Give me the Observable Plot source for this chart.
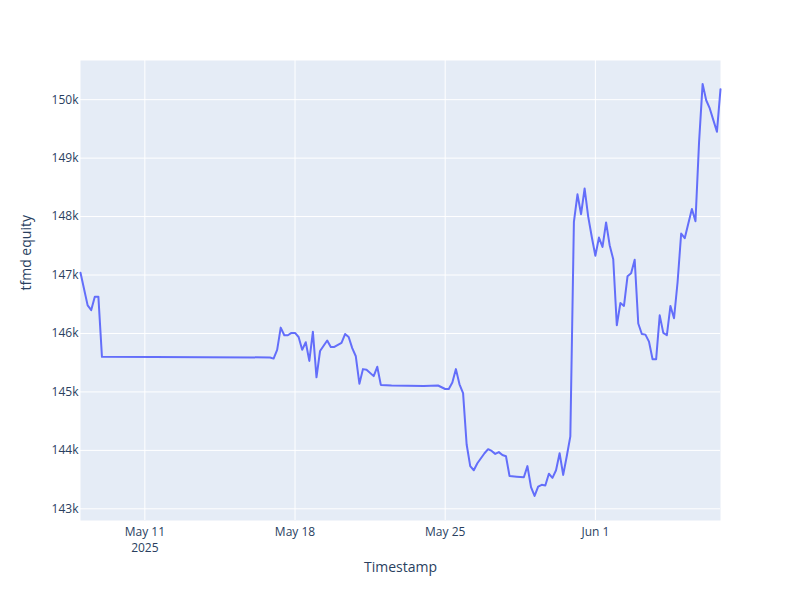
<!DOCTYPE html>
<html>
<head>
<meta charset="utf-8">
<script src="https://cdn.jsdelivr.net/npm/d3@7"></script>
<script src="https://cdn.jsdelivr.net/npm/@observablehq/plot@0.6"></script>
<style>
  body { margin: 0; background: #fff; }
  #chart svg { font-family: "Open Sans", sans-serif; }
</style>
</head>
<body>
<div id="chart"></div>
<script>
// timestamps and tfmd equity
const timestamps = [
  "2025-05-08T00:00", "2025-05-08T08:00", "2025-05-08T12:00", "2025-05-08T16:00", "2025-05-08T20:00",
  "2025-05-09T00:00", "2025-05-16T20:00", "2025-05-17T00:00", "2025-05-17T04:00", "2025-05-17T08:00",
  "2025-05-17T12:00", "2025-05-17T16:00", "2025-05-17T20:00", "2025-05-18T00:00", "2025-05-18T04:00",
  "2025-05-18T08:00", "2025-05-18T12:00", "2025-05-18T16:00", "2025-05-18T20:00", "2025-05-19T00:00",
  "2025-05-19T04:00", "2025-05-19T12:00", "2025-05-19T16:00", "2025-05-19T20:00", "2025-05-20T04:00",
  "2025-05-20T08:00", "2025-05-20T12:00", "2025-05-20T16:00", "2025-05-20T20:00", "2025-05-21T00:00",
  "2025-05-21T04:00", "2025-05-21T08:00", "2025-05-21T16:00", "2025-05-21T20:00", "2025-05-22T00:00",
  "2025-05-22T12:00", "2025-05-24T00:00", "2025-05-24T16:00", "2025-05-25T00:00", "2025-05-25T04:00",
  "2025-05-25T08:00", "2025-05-25T12:00", "2025-05-25T16:00", "2025-05-25T20:00", "2025-05-26T00:00",
  "2025-05-26T04:00", "2025-05-26T08:00", "2025-05-26T12:00", "2025-05-26T20:00", "2025-05-27T00:00",
  "2025-05-27T04:00", "2025-05-27T08:00", "2025-05-27T12:00", "2025-05-27T16:00", "2025-05-27T20:00",
  "2025-05-28T00:00", "2025-05-28T08:00", "2025-05-28T16:00", "2025-05-28T20:00", "2025-05-29T00:00",
  "2025-05-29T04:00", "2025-05-29T08:00", "2025-05-29T12:00", "2025-05-29T16:00", "2025-05-29T20:00",
  "2025-05-30T00:00", "2025-05-30T04:00", "2025-05-30T08:00", "2025-05-30T12:00", "2025-05-30T16:00",
  "2025-05-30T20:00", "2025-05-31T00:00", "2025-05-31T04:00", "2025-05-31T08:00", "2025-05-31T12:00",
  "2025-05-31T16:00", "2025-05-31T20:00", "2025-06-01T00:00", "2025-06-01T04:00", "2025-06-01T08:00",
  "2025-06-01T12:00", "2025-06-01T16:00", "2025-06-01T20:00", "2025-06-02T00:00", "2025-06-02T04:00",
  "2025-06-02T08:00", "2025-06-02T12:00", "2025-06-02T16:00", "2025-06-02T20:00", "2025-06-03T00:00",
  "2025-06-03T04:00", "2025-06-03T08:00", "2025-06-03T12:00", "2025-06-03T16:00", "2025-06-03T20:00",
  "2025-06-04T00:00", "2025-06-04T04:00", "2025-06-04T08:00", "2025-06-04T12:00", "2025-06-04T16:00",
  "2025-06-04T20:00", "2025-06-05T00:00", "2025-06-05T04:00", "2025-06-05T08:00", "2025-06-05T12:00",
  "2025-06-05T16:00", "2025-06-05T20:00", "2025-06-06T00:00", "2025-06-06T04:00", "2025-06-06T08:00",
  "2025-06-06T12:00", "2025-06-06T16:00", "2025-06-06T20:00"
];
const equity = [
  147040, 146480, 146400, 146630, 146630,
  145600, 145590, 145570, 145720, 146100,
  145970, 145970, 146010, 146010, 145940,
  145720, 145850, 145530, 146030, 145250,
  145700, 145880, 145770, 145770, 145840,
  145990, 145940, 145750, 145610, 145140,
  145390, 145380, 145270, 145430, 145120,
  145110, 145100, 145110, 145050, 145050,
  145160, 145390, 145130, 144980, 144100,
  143730, 143660, 143780, 143950, 144020,
  143990, 143940, 143970, 143920, 143900,
  143560, 143550, 143540, 143730, 143370,
  143220, 143380, 143410, 143400, 143600,
  143530, 143660, 143950, 143580, 143900,
  144240, 147910, 148380, 148040, 148480,
  148000, 147650, 147330, 147640, 147480,
  147900, 147510, 147270, 146140, 146520,
  146470, 146980, 147030, 147260, 146170,
  145990, 145980, 145860, 145560, 145560,
  146310, 146010, 145970, 146470, 146260,
  146880, 147710, 147630, 147880, 148130,
  147920, 149270, 150270, 149990, 149850,
  149650, 149450, 150180
];
const xTicks = ["2025-05-11", "2025-05-18", "2025-05-25", "2025-06-01"];
const yTicks = [143000, 144000, 145000, 146000, 147000, 148000, 149000, 150000];

const parse = d3.timeParse("%Y-%m-%dT%H:%M");
const data = timestamps.map((t, i) => ({Timestamp: parse(t), equity: equity[i]}));
const tickDates = xTicks.map(d3.timeParse("%Y-%m-%d"));

const chart = Plot.plot({
  width: 800,
  height: 600,
  marginLeft: 80,
  marginRight: 80,
  marginTop: 60,
  marginBottom: 80,
  style: {fontFamily: "Open Sans, sans-serif", fontSize: "12px", color: "#2a3f5f", background: "#fff"},
  x: {type: "time", domain: [parse("2025-05-08T00:00"), parse("2025-06-06T20:00")]},
  y: {domain: [142800, 150670]},
  marks: [
    Plot.frame({fill: "#e5ecf6", stroke: null}),
    Plot.gridX(tickDates, {stroke: "#fff", strokeOpacity: 1, strokeWidth: 1}),
    Plot.gridY(yTicks, {stroke: "#fff", strokeOpacity: 1, strokeWidth: 1}),
    Plot.axisX(tickDates, {
      tickSize: 0,
      tickPadding: 4,
      fontSize: 12,
      lineHeight: 1.35,
      fill: "#2a3f5f",
      tickFormat: (d, i) => d3.timeFormat("%b %-d")(d) + (i === 0 ? "\n2025" : ""),
      label: null
    }),
    Plot.axisY(yTicks, {
      tickSize: 0,
      tickPadding: 2,
      fontSize: 12,
      fill: "#2a3f5f",
      tickFormat: d => d / 1000 + "k",
      label: null
    }),
    Plot.text(["Timestamp"], {frameAnchor: "bottom", dy: 51, fontSize: 14, fill: "#2a3f5f"}),
    Plot.text(["tfmd equity"], {frameAnchor: "left", dx: -54, rotate: -90, fontSize: 14, fill: "#2a3f5f"}),
    Plot.lineY(data, {x: "Timestamp", y: "equity", stroke: "#636efa", strokeWidth: 2})
  ]
});
d3.select("#chart").append(() => chart);
</script>
</body>
</html>
